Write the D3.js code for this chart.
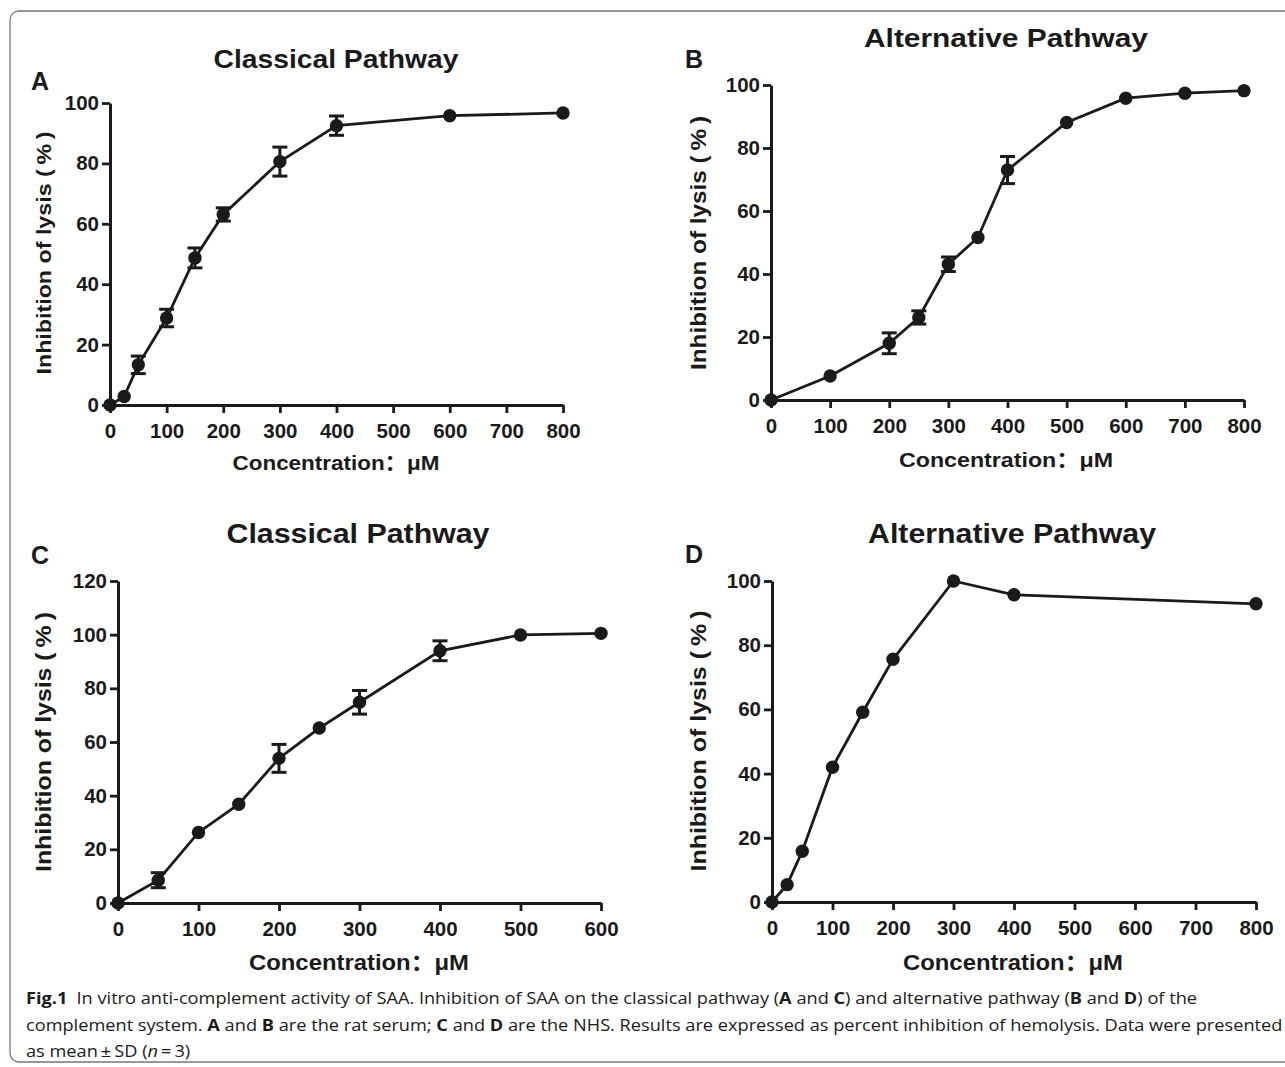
<!DOCTYPE html>
<html>
<head>
<meta charset="utf-8">
<script src="https://cdn.jsdelivr.net/npm/d3@7"></script>
<style>
  body { margin: 0; background: #fff; }
  svg text { fill: #1a1a1a; }
</style>
</head>
<body>
<svg id="fig" width="1285" height="1067"></svg>
<script>
'use strict';

// A: classical pathway, rat serum
const concA = [0, 25, 50, 100, 150, 200, 300, 400, 600, 800];
const inhibA = [0, 2.8, 13.3, 28.8, 48.7, 63.1, 80.6, 92.5, 95.8, 96.7];
const sdA = [0, 0, 2.9, 2.9, 3.3, 2.2, 4.8, 3.2, 0, 0];

// B: alternative pathway, rat serum
const concB = [0, 100, 200, 250, 300, 350, 400, 500, 600, 700, 800];
const inhibB = [0, 7.6, 18.0, 26.2, 43.1, 51.6, 73.0, 88.1, 95.8, 97.4, 98.2];
const sdB = [0, 0, 3.3, 2.1, 2.3, 0, 4.3, 0, 0, 0, 0];

// C: classical pathway, NHS
const concC = [0, 50, 100, 150, 200, 250, 300, 400, 500, 600];
const inhibC = [0, 8.5, 26.3, 36.8, 53.9, 65.2, 74.8, 94.0, 99.9, 100.5];
const sdC = [0, 2.8, 0, 0, 5.2, 0, 4.4, 3.7, 0, 0];

// D: alternative pathway, NHS
const concD = [0, 25, 50, 100, 150, 200, 300, 400, 800];
const inhibD = [0, 5.4, 15.8, 42.0, 59.1, 75.6, 100, 95.7, 92.9];
const sdD = [0, 0, 0, 0, 0, 0, 0, 0, 0];

const xTicks800 = [0, 100, 200, 300, 400, 500, 600, 700, 800];
const xTicks600 = [0, 100, 200, 300, 400, 500, 600];
const yTicks100 = [0, 20, 40, 60, 80, 100];
const yTicks120 = [0, 20, 40, 60, 80, 100, 120];

const TITLES = ['Classical Pathway', 'Alternative Pathway', 'Classical Pathway', 'Alternative Pathway'];
const LETTERS = ['A', 'B', 'C', 'D'];
const X_LABEL = 'Concentration：μM';
const Y_LABEL = 'Inhibition of lysis (\u2009%\u2009)';

const FONT = 'Arial, "Liberation Sans", "Noto Sans CJK SC", sans-serif';
const INK = '#1a1a1a';

const svg = d3.select('#fig');

// frame round the figure
svg.append('rect')
    .attr('x', 10).attr('y', 11)
    .attr('width', 1300).attr('height', 1051)
    .attr('rx', 9).attr('ry', 9)
    .attr('fill', 'none')
    .attr('stroke', '#777')
    .attr('stroke-width', 1.3);

// layout of each panel: pixel box of the axes, text anchors and text widths
const panels = [
    {x: concA, y: inhibA, sd: sdA, xt: xTicks800, yt: yTicks100, xmax: 800, ymax: 100,
     left: 110, right: 563, bottom: 405, top: 103,
     title: [336, 68, 25, 245], letter: [31, 90], xlab: [336, 470, 21, 207], ylab: [51, 253, 21, 243]},
    {x: concB, y: inhibB, sd: sdB, xt: xTicks800, yt: yTicks100, xmax: 800, ymax: 100,
     left: 771, right: 1244, bottom: 400, top: 85,
     title: [1006, 47, 25, 284], letter: [685, 68], xlab: [1006, 467, 21, 214], ylab: [706, 243, 22, 254]},
    {x: concC, y: inhibC, sd: sdC, xt: xTicks600, yt: yTicks120, xmax: 600, ymax: 120,
     left: 118, right: 601, bottom: 903, top: 581,
     title: [358, 543, 27, 263], letter: [31, 564], xlab: [359, 970, 22, 220], ylab: [51, 742, 22, 260]},
    {x: concD, y: inhibD, sd: sdD, xt: xTicks800, yt: yTicks100, xmax: 800, ymax: 100,
     left: 772, right: 1256, bottom: 902, top: 581,
     title: [1012, 543, 27, 288], letter: [685, 563], xlab: [1013, 970, 22, 220], ylab: [706, 741, 22, 261]}
];

function label(g, spec, txt) {
    return g.append('text')
        .attr('text-anchor', 'middle')
        .attr('font-family', FONT).attr('font-size', spec[2]).attr('font-weight', 'bold')
        .attr('textLength', spec[3]).attr('lengthAdjust', 'spacingAndGlyphs')
        .text(txt);
}

panels.forEach(function(p, k) {
    let x = d3.scaleLinear().domain([0, p.xmax]).range([p.left, p.right]);
    let y = d3.scaleLinear().domain([0, p.ymax]).range([p.bottom, p.top]);
    let g = svg.append('g');

    // axes
    let xa = g.append('g')
        .attr('transform', 'translate(0,' + p.bottom + ')')
        .call(d3.axisBottom(x).tickValues(p.xt).tickSize(8).tickSizeOuter(0).tickPadding(10));
    let ya = g.append('g')
        .attr('transform', 'translate(' + p.left + ',0)')
        .call(d3.axisLeft(y).tickValues(p.yt).tickSize(8).tickSizeOuter(0).tickPadding(3));
    [xa, ya].forEach(function(a) {
        a.select('.domain').attr('stroke', INK).attr('stroke-width', 3);
        a.selectAll('.tick line').attr('stroke', INK).attr('stroke-width', 2.8);
        a.selectAll('.tick text')
            .attr('font-family', FONT).attr('font-size', 20.5).attr('font-weight', 'bold')
            .attr('fill', INK);
    });

    let pts = p.x.map(function(v, i) { return {x: v, y: p.y[i], sd: p.sd[i]}; });

    // connecting line
    g.append('path')
        .datum(pts)
        .attr('fill', 'none')
        .attr('stroke', INK)
        .attr('stroke-width', 2.8)
        .attr('d', d3.line().x(function(d) { return x(d.x); }).y(function(d) { return y(d.y); }));

    // error bars (mean +/- SD)
    let eb = g.selectAll('.err')
        .data(pts.filter(function(d) { return d.sd > 0; }))
        .enter().append('g')
        .attr('stroke', INK).attr('stroke-width', 3);
    eb.append('line')
        .attr('x1', function(d) { return x(d.x); })
        .attr('x2', function(d) { return x(d.x); })
        .attr('y1', function(d) { return y(d.y - d.sd); })
        .attr('y2', function(d) { return y(d.y + d.sd); });
    [-1, 1].forEach(function(s) {
        eb.append('line')
            .attr('x1', function(d) { return x(d.x) - 7.5; })
            .attr('x2', function(d) { return x(d.x) + 7.5; })
            .attr('y1', function(d) { return y(d.y + s * d.sd); })
            .attr('y2', function(d) { return y(d.y + s * d.sd); });
    });

    // markers
    g.selectAll('circle')
        .data(pts)
        .enter().append('circle')
        .attr('cx', function(d) { return x(d.x); })
        .attr('cy', function(d) { return y(d.y); })
        .attr('r', 6.7)
        .attr('fill', INK);

    // texts
    label(g, p.title, TITLES[k]).attr('x', p.title[0]).attr('y', p.title[1]);
    label(g, p.xlab, X_LABEL).attr('x', p.xlab[0]).attr('y', p.xlab[1]);
    label(g, p.ylab, Y_LABEL)
        .attr('transform', 'translate(' + p.ylab[0] + ',' + p.ylab[1] + ') rotate(-90)');
    g.append('text')
        .attr('x', p.letter[0]).attr('y', p.letter[1])
        .attr('font-family', FONT).attr('font-size', 25).attr('font-weight', 'bold')
        .text(LETTERS[k]);
});

// caption
const captionLines = [
    [['Fig.1', 'b'], ['\u2002In vitro anti-complement activity of SAA. Inhibition of SAA on the classical pathway (', ''],
     ['A', 'b'], [' and ', ''], ['C', 'b'], [') and alternative pathway (', ''], ['B', 'b'], [' and ', ''],
     ['D', 'b'], [') of the', '']],
    [['complement system. ', ''], ['A', 'b'], [' and ', ''], ['B', 'b'], [' are the rat serum; ', ''],
     ['C', 'b'], [' and ', ''], ['D', 'b'],
     [' are the NHS. Results are expressed as percent inhibition of hemolysis. Data were presented', '']],
    [['as mean\u2009\u00b1\u2009SD (', ''], ['n', 'i'], ['\u2009=\u20093)', '']]
];
const capBase = [1004, 1030.5, 1057];

let capTexts = captionLines.map(function(line, i) {
    let t = svg.append('text')
        .attr('x', 0).attr('y', 0)
        .attr('font-family', '"Open Sans", "Noto Sans", sans-serif')
        .attr('font-size', 16)
        .attr('fill', INK);
    line.forEach(function(seg) {
        t.append('tspan')
            .attr('font-weight', seg[1] == 'b' ? 'bold' : null)
            .attr('font-style', seg[1] == 'i' ? 'italic' : null)
            .text(seg[0]);
    });
    return t;
});
// squeeze the caption so the second line ends at the right edge
let sx = 1257 / capTexts[1].node().getComputedTextLength();
capTexts.forEach(function(t, i) {
    t.attr('transform', 'translate(26,' + capBase[i] + ') scale(' + sx + ',1)');
});
</script>
</body>
</html>
